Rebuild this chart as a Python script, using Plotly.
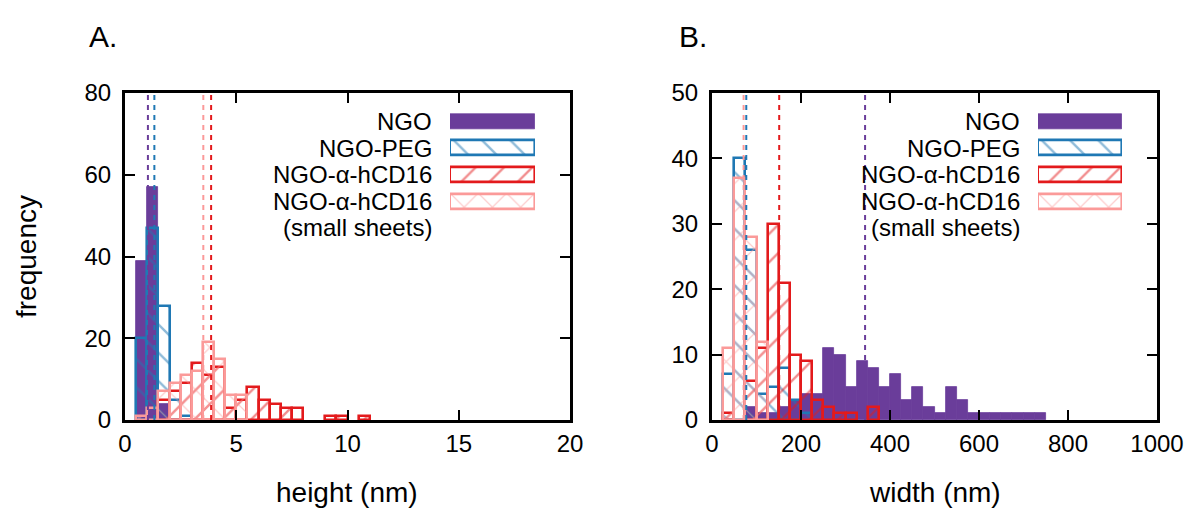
import plotly.graph_objects as go

W, H = 1193, 510

# ---------------- Data ----------------
# Panel A: height (nm), bins of 0.5 nm (values = bin centres)
a_ngo_x = [0.75, 1.25, 1.75]
a_ngo_y = [39, 57, 4]
a_peg_x = [0.75, 1.25, 1.75, 2.25, 2.75]
a_peg_y = [20, 47, 28, 5, 1]
a_cd16_x = [1.75, 2.25, 2.75, 3.25, 3.75, 4.25, 4.75, 5.25, 5.75, 6.25, 6.75,
            7.25, 7.75, 9.25, 9.75, 10.75]
a_cd16_y = [5, 7, 9, 14, 11, 13, 3, 5, 8, 5, 4, 3, 3, 1, 1, 1]
a_small_x = [0.75, 1.25, 1.75, 2.25, 2.75, 3.25, 3.75, 4.25, 4.75, 5.25]
a_small_y = [1, 3, 7, 9, 11, 12, 19, 15, 6, 6]
a_means = [1.03, 1.32, 3.87, 3.52]   # NGO, PEG, a-hCD16, small sheets

# Panel B: width (nm), bins of 25 nm (values = bin centres)
b_ngo_x = [87.5, 112.5, 137.5, 162.5, 187.5, 212.5, 237.5, 262.5, 287.5, 312.5,
           337.5, 362.5, 387.5, 412.5, 437.5, 462.5, 487.5, 512.5, 537.5, 562.5,
           587.5, 612.5, 637.5, 662.5, 687.5, 712.5, 737.5]
b_ngo_y = [2, 1, 1, 2, 3, 4, 4, 11, 10, 5, 9, 8, 5, 7, 3, 5, 2, 1, 5, 3,
           1, 1, 1, 1, 1, 1, 1]
b_peg_x = [37.5, 62.5, 87.5, 112.5, 137.5, 162.5, 187.5, 212.5]
b_peg_y = [7, 40, 26, 4, 5, 8, 3, 1]
b_cd16_x = [37.5, 87.5, 112.5, 137.5, 162.5, 187.5, 212.5, 237.5, 262.5, 287.5,
            312.5, 362.5]
b_cd16_y = [1, 6, 11, 30, 21, 10, 9, 3, 2, 1, 1, 2]
b_small_x = [37.5, 62.5, 87.5, 112.5]
b_small_y = [11, 37, 28, 12]
b_means = [344, 77, 151, 71]

series_names = ["NGO", "NGO-PEG", "NGO-α-hCD16", "NGO-α-hCD16"]
legend_extra = "(small sheets)"

# ---------------- Styles ----------------
C_NGO = "#6a3d9a"
C_PEG = "#1f78b4"
C_CD16 = "#e31a1c"
C_SMALL = "#fb9a99"
FONT = "Liberation Sans, Arial, Helvetica, sans-serif"
FS = 24
FS_TITLE = 28
LW = 2.6

styles = [
    dict(color=C_NGO, pattern=None),
    dict(color=C_PEG, pattern="\\"),
    dict(color=C_CD16, pattern="/"),
    dict(color=C_SMALL, pattern="x"),
]


def marker_for(i):
    st = styles[i]
    if st["pattern"] is None:
        return dict(color=st["color"], line=dict(color=st["color"], width=0.8))
    return dict(
        color="rgba(0,0,0,0)",
        line=dict(color=st["color"], width=LW),
        pattern=dict(shape=st["pattern"], fgcolor=st["color"],
                     bgcolor="rgba(0,0,0,0)", size=20, solidity=0.12,
                     fillmode="overlay"),
    )


fig = go.Figure()

panel_data = [
    ("x", "y", 0.5, [(a_ngo_x, a_ngo_y), (a_peg_x, a_peg_y),
                     (a_cd16_x, a_cd16_y), (a_small_x, a_small_y)], a_means),
    ("x2", "y2", 25, [(b_ngo_x, b_ngo_y), (b_peg_x, b_peg_y),
                      (b_cd16_x, b_cd16_y), (b_small_x, b_small_y)], b_means),
]

for xa, ya, bw, series, means in panel_data:
    for i, (xs, ys) in enumerate(series):
        fig.add_trace(go.Bar(x=xs, y=ys, width=bw, xaxis=xa, yaxis=ya,
                             marker=marker_for(i), showlegend=False,
                             hoverinfo="skip"))
    for i, m in enumerate(means):
        fig.add_shape(type="line", xref=xa, yref=ya + " domain", x0=m, x1=m,
                      y0=0, y1=1,
                      line=dict(color=styles[i]["color"], width=2,
                                dash="5px,5px"))

# ---------------- Custom legends (gnuplot style: text then sample) ----------------
row_px = [121.5, 148.2, 174.8, 201.4]
row_h = 26.6
leg_top = row_px[0] - row_h / 2
leg_bot = row_px[-1] + row_h / 2
leg_dom_y = [1 - leg_bot / H, 1 - leg_top / H]

legend_cfg = [
    ("x3", "y3", 434),
    ("x4", "y4", 1022),
]
for xa, ya, txt_right in legend_cfg:
    for i in range(4):
        fig.add_trace(go.Bar(x=[1], y=[3 - i], base=0, orientation="h",
                             width=15 / row_h, xaxis=xa, yaxis=ya,
                             marker=marker_for(i), showlegend=False,
                             hoverinfo="skip"))
        fig.add_annotation(xref="paper", yref="paper", x=txt_right / W,
                           y=1 - row_px[i] / H, xanchor="right",
                           yanchor="middle", text=series_names[i],
                           showarrow=False, font=dict(size=FS, color="black"))
    fig.add_annotation(xref="paper", yref="paper", x=txt_right / W,
                       y=1 - (row_px[-1] + 26.5) / H, xanchor="right",
                       yanchor="middle", text=legend_extra, showarrow=False,
                       font=dict(size=FS, color="black"))

# ---------------- Axes ----------------
y_dom = [1 - 420 / H, 1 - 93 / H]
common = dict(showline=True, linecolor="black", linewidth=3, mirror="ticks",
              ticks="inside", ticklen=10, tickwidth=2, tickcolor="black",
              showgrid=False, zeroline=False, automargin=False,
              tickfont=dict(size=FS, color="black"))
hidden = dict(visible=False, fixedrange=True, automargin=False)

fig.update_layout(
    xaxis=dict(domain=[125 / W, 570 / W], range=[0, 20], dtick=5,
               anchor="y", **common),
    yaxis=dict(domain=y_dom, range=[0, 80], dtick=20, anchor="x",
               ticklabelstandoff=6, **common),
    xaxis2=dict(domain=[712 / W, 1157 / W], range=[0, 1000], dtick=200,
                anchor="y2", **common),
    yaxis2=dict(domain=y_dom, range=[0, 50], dtick=10, anchor="x2",
                ticklabelstandoff=6, **common),
    xaxis3=dict(domain=[450 / W, 535 / W], range=[0, 1], anchor="y3", **hidden),
    yaxis3=dict(domain=leg_dom_y, range=[-0.5, 3.5], anchor="x3", **hidden),
    xaxis4=dict(domain=[1038 / W, 1122 / W], range=[0, 1], anchor="y4", **hidden),
    yaxis4=dict(domain=leg_dom_y, range=[-0.5, 3.5], anchor="x4", **hidden),
    barmode="overlay",
    bargap=0,
    width=W, height=H,
    margin=dict(l=0, r=0, t=0, b=0, pad=0, autoexpand=False),
    paper_bgcolor="white", plot_bgcolor="white",
    font=dict(family=FONT, size=FS, color="black"),
)

# Axis titles and panel labels
fig.add_annotation(xref="paper", yref="paper", x=347 / W, y=1 - 492 / H,
                   text="height (nm)", showarrow=False, xanchor="center",
                   yanchor="middle", font=dict(size=FS_TITLE))
fig.add_annotation(xref="paper", yref="paper", x=935 / W, y=1 - 492 / H,
                   text="width (nm)", showarrow=False, xanchor="center",
                   yanchor="middle", font=dict(size=FS_TITLE))
fig.add_annotation(xref="paper", yref="paper", x=26 / W, y=1 - 257 / H,
                   text="frequency", showarrow=False, textangle=-90,
                   xanchor="center", yanchor="middle", font=dict(size=FS_TITLE))
fig.add_annotation(xref="paper", yref="paper", x=87 / W, y=1 - 37 / H,
                   text="A.", showarrow=False, xanchor="left",
                   yanchor="middle", font=dict(size=30))
fig.add_annotation(xref="paper", yref="paper", x=677 / W, y=1 - 37 / H,
                   text="B.", showarrow=False, xanchor="left",
                   yanchor="middle", font=dict(size=30))

fig.write_html(
    "out.html",
    config={"displayModeBar": False},
    post_script="document.body.style.margin='0';document.body.style.overflow='hidden';",
)
